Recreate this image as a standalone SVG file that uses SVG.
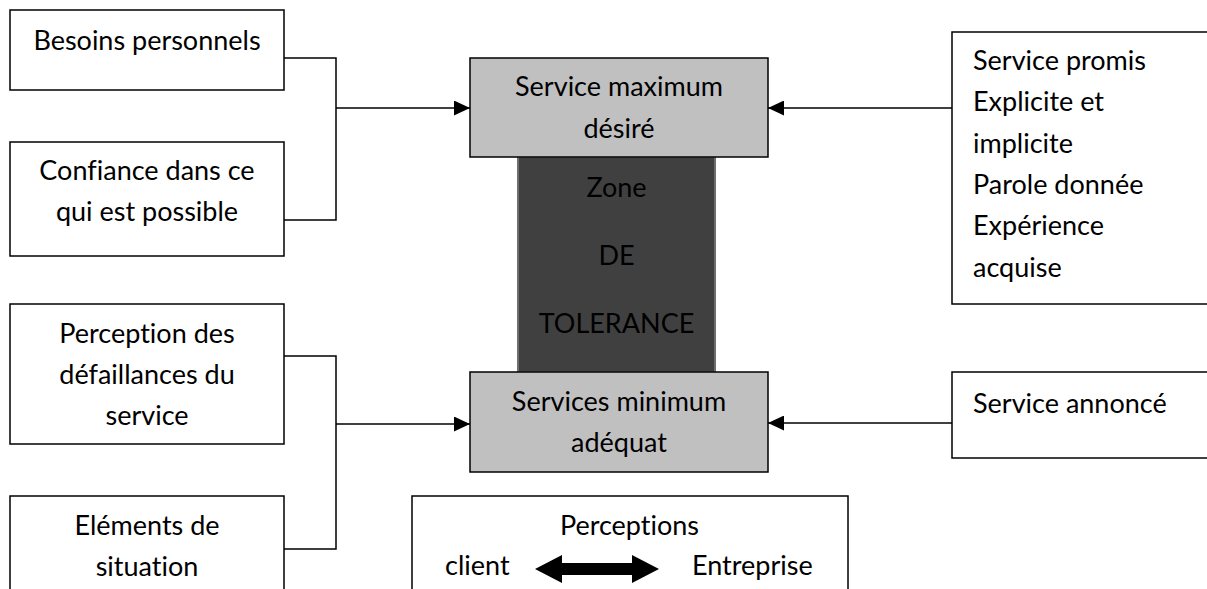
<svg xmlns="http://www.w3.org/2000/svg" width="1207" height="589" viewBox="0 0 1207 589">
  <style>
    .box { fill: #ffffff; stroke: #000000; stroke-width: 1.5; }
    .level { fill: #c0c0c0; stroke: #000000; stroke-width: 1.5; }
    .zone { fill: #404040; stroke: #6e6e6e; stroke-width: 2; }
    .wire { fill: none; stroke: #000000; stroke-width: 1.5; }
    text { font-family: Lato, "Liberation Sans", sans-serif; font-size: 27px; fill: #000000; font-variant-ligatures: none; }
    .c { text-anchor: middle; }
  </style>
  <defs>
    <marker id="head" markerUnits="userSpaceOnUse" markerWidth="17" markerHeight="15" refX="16" refY="7.5" orient="auto">
      <path d="M0,0 L16,7.5 L0,15 Z" fill="#000000"/>
    </marker>
  </defs>

  <!-- tolerance zone between the two service levels -->
  <g id="zone">
    <rect class="zone" x="518" y="157" width="197" height="215"/>
    <text class="c" x="616.5" y="197">Zone</text>
    <text class="c" x="616.5" y="265">DE</text>
    <text class="c" x="616.5" y="333">TOLERANCE</text>
  </g>

  <g id="desired">
    <rect class="level" x="470" y="58" width="298" height="99"/>
    <text class="c" x="619" y="96">Service maximum</text>
    <text class="c" x="619" y="138">désiré</text>
  </g>

  <g id="adequate">
    <rect class="level" x="470" y="372" width="298" height="100"/>
    <text class="c" x="619" y="411">Services minimum</text>
    <text class="c" x="619" y="452">adéquat</text>
  </g>

  <g id="needs">
    <rect class="box" x="10" y="10" width="274" height="80"/>
    <text class="c" x="147" y="50">Besoins personnels</text>
  </g>

  <g id="confidence">
    <rect class="box" x="10" y="142" width="274" height="114"/>
    <text class="c" x="147" y="180">Confiance dans ce</text>
    <text class="c" x="147" y="221">qui est possible</text>
  </g>

  <g id="failures">
    <rect class="box" x="10" y="304" width="274" height="140"/>
    <text class="c" x="147" y="343">Perception des</text>
    <text class="c" x="147" y="384">défaillances du</text>
    <text class="c" x="147" y="425">service</text>
  </g>

  <g id="situation">
    <rect class="box" x="10" y="496" width="274" height="130"/>
    <text class="c" x="147" y="535">Eléments de</text>
    <text class="c" x="147" y="576">situation</text>
  </g>

  <g id="promised">
    <rect class="box" x="952" y="32" width="300" height="272"/>
    <text x="973" y="70">Service promis</text>
    <text x="973" y="111">Explicite et</text>
    <text x="973" y="152.5">implicite</text>
    <text x="973" y="194">Parole donnée</text>
    <text x="973" y="235">Expérience</text>
    <text x="973" y="276.5">acquise</text>
  </g>

  <g id="announced">
    <rect class="box" x="952" y="372" width="300" height="86"/>
    <text x="973" y="413">Service annoncé</text>
  </g>

  <g id="perceptions">
    <rect class="box" x="412" y="496" width="436" height="130"/>
    <text class="c" x="629.5" y="535">Perceptions</text>
    <text x="445" y="575">client</text>
    <text x="692" y="575">Entreprise</text>
    <polygon points="535,569 562,555 562,563 632,563 632,555 659,569 632,583 632,575 562,575 562,583" fill="#000000"/>
  </g>

  <g id="connectors">
    <path class="wire" d="M284,58 H336 V220 H284"/>
    <path class="wire" d="M336,108 H470" marker-end="url(#head)"/>
    <path class="wire" d="M284,356 H336 V549 H284"/>
    <path class="wire" d="M336,424 H470" marker-end="url(#head)"/>
    <path class="wire" d="M952,108 H768" marker-end="url(#head)"/>
    <path class="wire" d="M952,423 H768" marker-end="url(#head)"/>
  </g>
</svg>
